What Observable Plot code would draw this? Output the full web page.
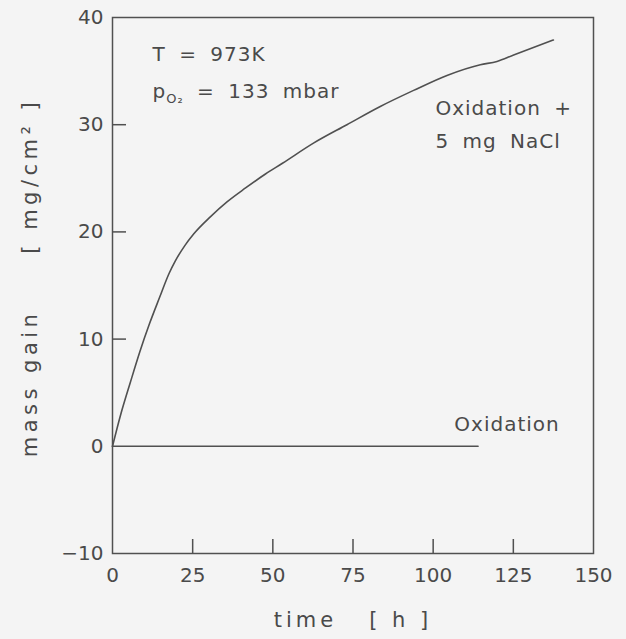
<!DOCTYPE html>
<html>
<head>
<meta charset="utf-8">
<script src="https://cdn.jsdelivr.net/npm/d3@7"></script>
<script src="https://cdn.jsdelivr.net/npm/@observablehq/plot@0.6"></script>
<style>
  html, body { margin: 0; padding: 0; background: #f4f4f4; }
</style>
</head>
<body>
<div id="chart"></div>
<script>
// Tick values
const xLabelTicks = [0, 25, 50, 75, 100, 125, 150];
const xMarkTicks = [25, 50, 75, 100, 125];
const yLabelTicks = [-10, 0, 10, 20, 30, 40];
const yMarkTicks = [10, 20, 30];

// Series: Oxidation + 5 mg NaCl
const naclTime = [0, 2.5, 5.6, 8.5, 11.5, 14.7, 17.6, 19.6, 22.5, 25.3, 30.5, 35.7, 41.5, 47.7, 53.0, 62.8, 73.1, 83.5, 93.9, 104.3, 114.7, 119.9, 125.1, 137.5];
const naclGain = [0, 2.9, 6.0, 8.8, 11.4, 13.9, 16.1, 17.3, 18.7, 19.8, 21.4, 22.8, 24.1, 25.4, 26.4, 28.3, 30.0, 31.7, 33.2, 34.6, 35.6, 35.9, 36.5, 37.9];

// Series: Oxidation
const oxTime = [0, 114];
const oxGain = [0, 0];

// Annotations
const annText = ["T = 973K", "pO₂ = 133 mbar", "Oxidation +", "5 mg NaCl", "Oxidation"];
const annX = [12.5, 12.5, 100.7, 100.7, 106.6];
const annY = [36.5, 33.1, 31.5, 28.4, 2.0];

const xTitle = "time\u00a0\u00a0\u00a0[ h ]";
const yTitle = "mass gain\u00a0\u00a0\u00a0\u00a0\u00a0[ mg/cm² ]";

const naclData = naclTime.map((t, i) => ({t, g: naclGain[i]}));
const oxData = oxTime.map((t, i) => ({t, g: oxGain[i]}));

const ink = "#505050";
const textInk = "#4a4a4a";
const fmt = d => d < 0 ? "\u2212" + Math.abs(d) : String(d);

const chart = Plot.plot({
  width: 626,
  height: 639,
  marginLeft: 112,
  marginRight: 33,
  marginTop: 17,
  marginBottom: 86,
  x: {domain: [0, 150]},
  y: {domain: [-10, 40]},
  style: {background: "#f4f4f4", color: textInk, fontFamily: "DejaVu Sans", fontSize: "20px"},
  marks: [
    Plot.frame({stroke: ink, strokeWidth: 1.5}),
    Plot.axisX(xMarkTicks, {tickSize: -14, fill: "none", stroke: ink, strokeWidth: 1.5, label: null}),
    Plot.axisX(xLabelTicks, {tickSize: 0, tickPadding: 14, label: null, fontSize: 20, fill: textInk, tickFormat: fmt}),
    Plot.axisY(yMarkTicks, {tickSize: -14, fill: "none", stroke: ink, strokeWidth: 1.5, label: null}),
    Plot.axisY(yLabelTicks, {tickSize: 0, tickPadding: 9, label: null, fontSize: 20, fill: textInk, tickFormat: fmt}),
    Plot.line(oxData, {x: "t", y: "g", stroke: ink, strokeWidth: 1.6}),
    Plot.line(naclData, {x: "t", y: "g", stroke: ink, strokeWidth: 1.6, curve: "monotone-x"}),
    Plot.text(annText, {x: annX, y: annY, text: annText, textAnchor: "start", lineAnchor: "middle", fontSize: 20, fill: textInk}),
    Plot.text([yTitle], {text: d => d, frameAnchor: "left", textAnchor: "middle", lineAnchor: "middle", rotate: -90, dx: -82, dy: -8, fontSize: 21, fill: textInk}),
    Plot.text([xTitle], {text: d => d, frameAnchor: "bottom", textAnchor: "middle", lineAnchor: "middle", dy: 67, fontSize: 21, fill: textInk})
  ]
});

// Typographic touches: letter spacing and the O2 subscript
const NS = "http://www.w3.org/2000/svg";
chart.querySelectorAll("text").forEach(t => {
  const s = t.textContent;
  if (s === xTitle) {
    t.setAttribute("letter-spacing", "4");
  } else if (s === yTitle) {
    t.setAttribute("letter-spacing", "4.5");
  } else if (annText.includes(s)) {
    t.setAttribute("letter-spacing", "1");
    t.setAttribute("word-spacing", "6");
    if (s.startsWith("pO")) {
      t.textContent = "";
      t.appendChild(document.createTextNode("p"));
      const sub = document.createElementNS(NS, "tspan");
      sub.setAttribute("font-size", "13");
      sub.setAttribute("dy", "5");
      sub.textContent = "O₂";
      t.appendChild(sub);
      const rest = document.createElementNS(NS, "tspan");
      rest.setAttribute("dy", "-5");
      rest.textContent = " = 133 mbar";
      t.appendChild(rest);
    }
  }
});

document.getElementById("chart").appendChild(chart);
</script>
</body>
</html>
